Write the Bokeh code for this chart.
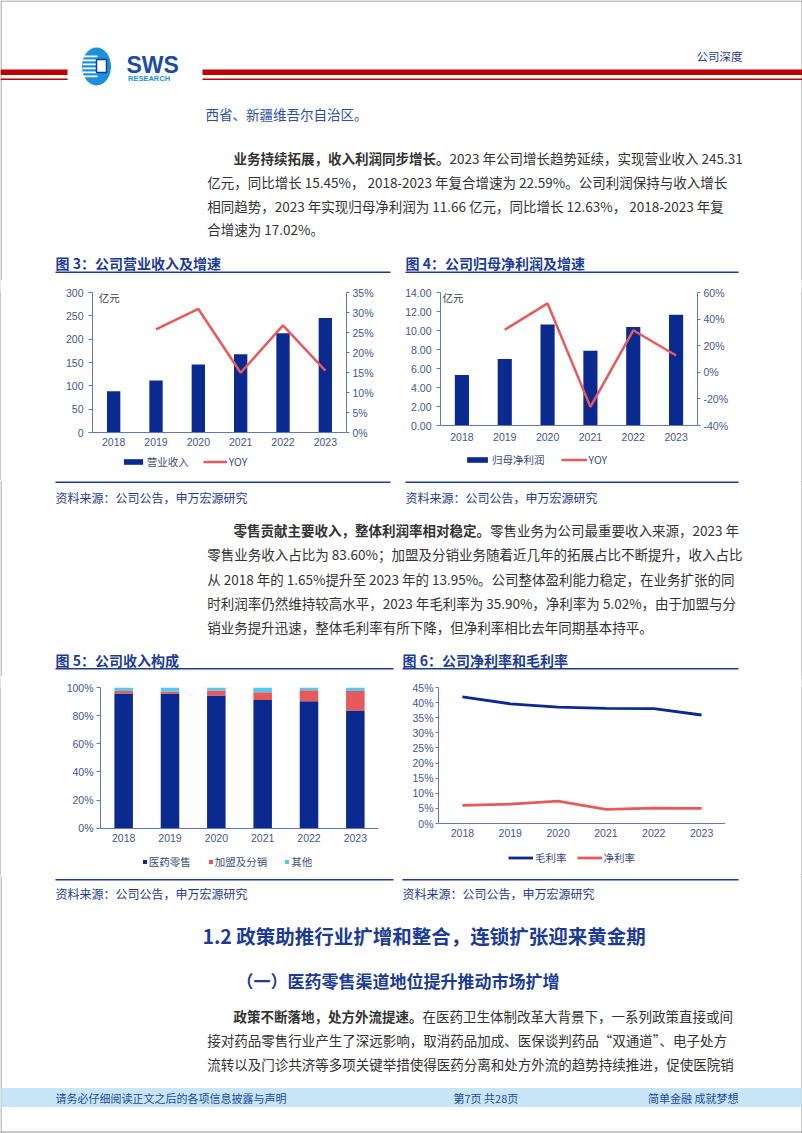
from bokeh.plotting import figure
from bokeh.models import (Range1d, FactorRange, LinearAxis, FixedTicker, PrintfTickFormatter,
                          Legend, LegendItem, ColumnDataSource)
from bokeh.layouts import column, row
from bokeh.core.properties import value
from bokeh.embed import file_html
from bokeh.resources import INLINE

# ---------------- data ----------------
years = ["2018", "2019", "2020", "2021", "2022", "2023"]
yoy_years = ["2019", "2020", "2021", "2022", "2023"]
revenue = [88.59, 111.41, 145.82, 167.59, 212.48, 245.31]          # 亿元
revenue_yoy = [25.76, 30.88, 14.93, 26.79, 15.45]                  # %
net_profit = [5.31, 7.01, 10.64, 7.87, 10.36, 11.66]               # 亿元
net_profit_yoy = [32.0, 51.8, -26.0, 31.6, 12.63]                  # %
retail_share = [95.8, 95.7, 94.4, 91.1, 90.2, 83.6]                # %
franchise_share = [1.65, 1.5, 3.5, 5.6, 7.9, 13.95]                # %
other_share = [2.55, 2.8, 2.1, 3.3, 1.9, 2.45]                     # %
gross_margin = [41.9, 39.6, 38.5, 38.1, 38.0, 35.9]                # %
net_margin = [6.0, 6.4, 7.4, 4.7, 5.1, 5.02]                       # %

rev_ticks = [0, 50, 100, 150, 200, 250, 300]
rev_yoy_ticks = [0, 5, 10, 15, 20, 25, 30, 35]
np_ticks = [0, 2, 4, 6, 8, 10, 12, 14]
np_yoy_ticks = [-40, -20, 0, 20, 40, 60]
share_ticks = [0, 20, 40, 60, 80, 100]
margin_ticks = [0, 5, 10, 15, 20, 25, 30, 35, 40, 45]

# ---------------- style ----------------
CJK = "Noto Sans CJK SC"
LAT = "Liberation Sans"
NAVY = "#0B2A8F"
RED = "#E65A5B"
CYAN = "#55C8EE"
BLUE_TXT = "#1C3B95"
AX = "#5E78BC"
TICK_TXT = "#44568E"
BODY = "#333333"
BORDER = "#909090"
FS = 13.5


def band(top, h):
    p = figure(width=802, height=h, x_range=Range1d(0, 802), y_range=Range1d(top + h, top),
               x_axis_type=None, y_axis_type=None, output_backend="svg",
               toolbar_location=None, min_border=0, title=None)
    p.outline_line_color = None
    p.background_fill_color = "white"
    p.border_fill_color = "white"
    p.segment(x0=[0.5, 801.5], y0=[top, top], x1=[0.5, 801.5], y1=[top + h, top + h],
              line_color=BORDER, line_width=1)
    return p


def txt(p, x, y, s, size, color=BODY, bold=False, align="left", font=CJK):
    p.text(x=[x], y=[y], text=[s], text_font=value(font), text_font_size=f"{size}px",
           text_color=color, text_font_style="bold" if bold else "normal",
           text_align=align, text_baseline="middle")


def hline(p, x0, x1, y, color=BLUE_TXT, w=1.5):
    p.segment(x0=[x0], y0=[y], x1=[x1], y1=[y], line_color=color, line_width=w)


def para_line(p, y, bold, rest, x_indent=233.0):
    txt(p, x_indent, y, bold, FS, BODY, bold=True)
    txt(p, x_indent + len(bold) * FS, y, rest, FS, BODY)


def vborder(h):
    p = figure(width=1, height=h, x_range=Range1d(0, 1), y_range=Range1d(0, 1),
               x_axis_type=None, y_axis_type=None, output_backend="svg",
               toolbar_location=None, min_border=0, title=None)
    p.outline_line_color = None
    p.background_fill_color = BORDER
    p.border_fill_color = BORDER
    return p


def span_range(lo, hi, px_top, px_zero, px_bottom):
    # value range whose [lo, hi] occupies px_zero..px_top, extended down to px_bottom
    return Range1d(lo - (hi - lo) * (px_bottom - px_zero) / (px_zero - px_top), hi)


def make_chart(w, h, bl, br, bt, yr, ticks, fmt, tick_out=4, standoff=5, xstand=5, fsz="10.5px"):
    p = figure(width=w, height=h, x_range=FactorRange(factors=years), y_range=yr, title=None,
               output_backend="svg", toolbar_location=None,
               min_border_left=bl, min_border_right=br, min_border_top=bt, min_border_bottom=0)
    p.grid.visible = False
    p.outline_line_color = None
    p.background_fill_color = "white"
    p.border_fill_color = "white"
    xa = p.xaxis[0]
    xa.fixed_location = ticks[0]
    xa.axis_line_color = AX
    xa.axis_line_width = 1
    xa.major_tick_line_color = None
    xa.major_tick_out = 0
    xa.major_tick_in = 0
    xa.minor_tick_line_color = None
    xa.major_label_text_font = LAT
    xa.major_label_text_font_size = fsz
    xa.major_label_text_color = TICK_TXT
    xa.major_label_standoff = xstand
    ya = p.yaxis[0]
    ya.bounds = (ticks[0], ticks[-1])
    ya.ticker = FixedTicker(ticks=ticks)
    ya.formatter = PrintfTickFormatter(format=fmt)
    ya.axis_line_color = AX
    ya.major_tick_line_color = AX
    ya.major_tick_in = 0
    ya.major_tick_out = tick_out
    ya.minor_tick_line_color = None
    ya.major_label_text_font = LAT
    ya.major_label_text_font_size = fsz
    ya.major_label_text_color = TICK_TXT
    ya.major_label_standoff = standoff
    return p


def right_axis(p, name, ticks, fmt, fsz="10.5px"):
    ax = LinearAxis(y_range_name=name, ticker=FixedTicker(ticks=ticks),
                    formatter=PrintfTickFormatter(format=fmt), bounds=(ticks[0], ticks[-1]))
    ax.axis_line_color = AX
    ax.major_tick_line_color = AX
    ax.major_tick_in = 0
    ax.major_tick_out = 3
    ax.minor_tick_line_color = None
    ax.major_label_text_font = LAT
    ax.major_label_text_font_size = fsz
    ax.major_label_text_color = TICK_TXT
    ax.major_label_standoff = 3
    p.add_layout(ax, "right")


def legend(p, items, vx, vy, gw, gh, spacing):
    lg = Legend(items=items, location=(vx, vy), orientation="horizontal", glyph_width=gw,
                glyph_height=gh, label_standoff=2, spacing=spacing, padding=0, margin=0,
                border_line_color=None, background_fill_alpha=0,
                label_text_font=CJK, label_text_font_size="10.5px",
                label_text_color="#3D4A78", label_height=13)
    p.add_layout(lg)


# ================= Band A : header + paragraph 1 + titles (0..280) =================
A = band(0, 280)
A.segment(x0=[0], y0=[0.5], x1=[802], y1=[0.5], line_color=BORDER, line_width=1)
A.quad(left=[0, 202], right=[67, 802], top=[69.0, 69.0], bottom=[74.5, 74.5],
       fill_color="#C00000", line_color=None)
A.quad(left=[0, 202], right=[67, 802], top=[78.0, 78.0], bottom=[79.5, 79.5],
       fill_color="#C00000", line_color=None)
# logo
A.ellipse(x=[96], y=[66], width=[29], height=[38], fill_color="#1E8FDA", line_color=None)
A.quad(left=[82] * 6, right=[97] * 6, top=[55, 59, 63, 67, 71, 75],
       bottom=[56.8, 60.8, 64.8, 68.8, 72.8, 76.8], fill_color="white", line_color=None)
A.quad(left=[96], right=[106], top=[59], bottom=[72], fill_color="white",
       line_color="#0B3F9A", line_width=1.5)
txt(A, 126, 64.5, "SWS", 23, "#1B4BA6", bold=True, font="Liberation Sans")
txt(A, 127.5, 77.8, "RESEARCH", 7.5, "#1E8FDA", bold=True, font="Liberation Sans")
txt(A, 696, 55, "公司深度", 11.5, BLUE_TXT)

txt(A, 205, 113, "西省、新疆维吾尔自治区。", FS, "#2D4EA2")
para_line(A, 157.3, "业务持续拓展，收入利润同步增长。", "2023 年公司增长趋势延续，实现营业收入 245.31")
txt(A, 206.7, 181.3, "亿元，同比增长 15.45%，  2018-2023 年复合增速为 22.59%。公司利润保持与收入增长", FS)
txt(A, 206.7, 205.0, "相同趋势，2023 年实现归母净利润为 11.66 亿元，同比增长 12.63%，  2018-2023 年复", FS)
txt(A, 206.7, 228.6, "合增速为 17.02%。", FS)

txt(A, 55, 262.7, "图 3：公司营业收入及增速", 14, BLUE_TXT, bold=True)
txt(A, 405, 262.7, "图 4：公司归母净利润及增速", 14, BLUE_TXT, bold=True)
hline(A, 55, 390, 271.7)
hline(A, 405, 738, 271.7)

# ================= Band B : charts 3 and 4 (280..480) =================
c3 = make_chart(400, 200, 91, 55, 12, span_range(0, 300, 292, 432, 480), rev_ticks, "%d")
c3.extra_y_ranges = {"yoy": span_range(0, 35, 292, 432, 480)}
right_axis(c3, "yoy", rev_yoy_ticks, "%d%%")
b3 = c3.vbar(x=years, top=revenue, width=0.315, fill_color=NAVY, line_color=None)
l3 = c3.line(x=yoy_years, y=revenue_yoy, y_range_name="yoy", line_color=RED, line_width=2.5)
c3.text(x=[years[0]], y=[rev_ticks[-1]], text=["亿元"], x_offset=-15, y_offset=5,
        text_font=value(CJK), text_font_size="10.5px", text_color="#404040",
        text_baseline="middle", text_align="left")
legend(c3, [LegendItem(label="营业收入", renderers=[b3]), LegendItem(label="YOY", renderers=[l3])],
       28.7, 11.3, 24, 7, 14)

c4 = make_chart(400, 200, 39, 104, 12, span_range(0, 14, 292, 425, 480), np_ticks, "%.2f", xstand=7)
c4.extra_y_ranges = {"yoy": span_range(-40, 60, 292, 425, 480)}
right_axis(c4, "yoy", np_yoy_ticks, "%d%%")
b4 = c4.vbar(x=years, top=net_profit, width=0.33, fill_color=NAVY, line_color=None)
l4 = c4.line(x=yoy_years, y=net_profit_yoy, y_range_name="yoy", line_color=RED, line_width=2.5)
c4.text(x=[years[0]], y=[np_ticks[-1]], text=["亿元"], x_offset=-19.5, y_offset=5,
        text_font=value(CJK), text_font_size="10.5px", text_color="#404040",
        text_baseline="middle", text_align="left")
legend(c4, [LegendItem(label="归母净利润", renderers=[b4]), LegendItem(label="YOY", renderers=[l4])],
       24, 13, 26, 7, 16)

bandB = row(vborder(200), c3, c4, vborder(200))

# ================= Band C : sources + paragraph 2 + titles (480..676) =================
C = band(480, 196)
hline(C, 55, 390, 481.7)
hline(C, 405, 738, 481.7)
txt(C, 55, 496.7, "资料来源：公司公告，申万宏源研究", 12, "#1F3A8A")
txt(C, 405, 496.7, "资料来源：公司公告，申万宏源研究", 12, "#1F3A8A")
para_line(C, 529.5, "零售贡献主要收入，整体利润率相对稳定。", "零售业务为公司最重要收入来源，2023 年")
txt(C, 206.7, 553.8, "零售业务收入占比为 83.60%；加盟及分销业务随着近几年的拓展占比不断提升，收入占比", FS)
txt(C, 206.7, 578.1, "从 2018 年的 1.65%提升至 2023 年的 13.95%。公司整体盈利能力稳定，在业务扩张的同", FS)
txt(C, 206.7, 602.4, "时利润率仍然维持较高水平，2023 年毛利率为 35.90%，净利率为 5.02%，由于加盟与分", FS)
txt(C, 206.7, 626.7, "销业务提升迅速，整体毛利率有所下降，但净利率相比去年同期基本持平。", FS)
txt(C, 55, 659.3, "图 5：公司收入构成", 14, BLUE_TXT, bold=True)
txt(C, 402, 659.3, "图 6：公司净利率和毛利率", 14, BLUE_TXT, bold=True)
hline(C, 55, 393, 668.3)
hline(C, 402, 738, 668.3)

# ================= Band D : charts 5 and 6 (676..875) =================
c5 = make_chart(400, 199, 99, 23, 8, span_range(0, 100, 684, 827, 875), share_ticks, "%d%%",
                tick_out=4, standoff=3, xstand=6)
src5 = ColumnDataSource(dict(year=years, retail=retail_share, franchise=franchise_share,
                             other=other_share))
r5 = c5.vbar_stack(["retail", "franchise", "other"], x="year", width=0.4,
                   fill_color=[NAVY, RED, CYAN], line_color=None, source=src5)
legend(c5, [LegendItem(label="医药零售", renderers=[r5[0]]),
            LegendItem(label="加盟及分销", renderers=[r5[1]]),
            LegendItem(label="其他", renderers=[r5[2]])],
       41.7, 6.3, 5, 5, 17)

c6 = make_chart(400, 199, 37, 76, 11, span_range(0, 45, 687, 823, 875), margin_ticks, "%d%%",
                tick_out=3, standoff=2, xstand=5)
g6 = c6.line(x=years, y=gross_margin, line_color=NAVY, line_width=2.8)
n6 = c6.line(x=years, y=net_margin, line_color=RED, line_width=2.8)
legend(c6, [LegendItem(label="毛利率", renderers=[g6]), LegendItem(label="净利率", renderers=[n6])],
       70, 9.7, 25, 7, 10)

bandD = row(vborder(199), c5, c6, vborder(199))

# ================= Band E : sources + headings + paragraph 3 + footer (875..1133) =================
E = band(875, 258)
hline(E, 55, 393, 879.3)
hline(E, 402, 738, 879.3)
txt(E, 55, 892.7, "资料来源：公司公告，申万宏源研究", 12, "#1F3A8A")
txt(E, 402, 893, "资料来源：公司公告，申万宏源研究", 12, "#1F3A8A")
txt(E, 202, 935, "1.2  政策助推行业扩增和整合，连锁扩张迎来黄金期", 19.5, BLUE_TXT, bold=True)
txt(E, 236, 980, "（一）医药零售渠道地位提升推动市场扩增", 17, BLUE_TXT, bold=True)
para_line(E, 1015.5, "政策不断落地，处方外流提速。", "在医药卫生体制改革大背景下，一系列政策直接或间")
txt(E, 206.7, 1039.3, "接对药品零售行业产生了深远影响，取消药品加成、医保谈判药品“双通道”、电子处方", FS)
txt(E, 206.7, 1063.1, "流转以及门诊共济等多项关键举措使得医药分离和处方外流的趋势持续推进，促使医院销", FS)
E.quad(left=[1], right=[801], top=[1087.5], bottom=[1106.5], fill_color="#C9E6F8", line_color=None)
txt(E, 55, 1097.5, "请务必仔细阅读正文之后的各项信息披露与声明", 11, "#2346A0")
txt(E, 453, 1097.5, "第7页 共28页", 11, "#2346A0")
txt(E, 738, 1097.5, "简单金融 成就梦想", 11, "#2346A0", align="right")
E.segment(x0=[0], y0=[1131.5], x1=[802], y1=[1131.5], line_color=BORDER, line_width=1)

page = column(A, bandB, C, bandD, E)
open("out.html", "w").write(file_html(page, INLINE))
